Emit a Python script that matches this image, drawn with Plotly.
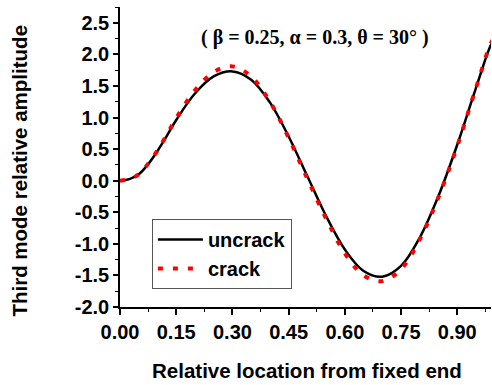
import plotly.graph_objects as go

# Relative location from fixed end
x_pos = [0.00, 0.025, 0.05, 0.075, 0.10, 0.125, 0.15, 0.20, 0.25, 0.30, 0.35, 0.40, 0.45, 0.50,
         0.55, 0.60, 0.65, 0.70, 0.75, 0.80, 0.85, 0.90, 0.95, 0.99, 1.00]
# Third mode relative amplitude
uncrack = [0.00, 0.025, 0.10, 0.26, 0.47, 0.71, 0.96, 1.38, 1.65, 1.73, 1.60, 1.24, 0.70, 0.07,
           -0.56, -1.09, -1.43, -1.52, -1.35, -0.90, -0.24, 0.57, 1.47, 2.15, 2.23]
crack = [0.00, 0.025, 0.10, 0.27, 0.48, 0.73, 0.99, 1.43, 1.72, 1.81, 1.65, 1.25, 0.68, 0.03,
         -0.60, -1.15, -1.50, -1.59, -1.40, -0.93, -0.26, 0.55, 1.47, 2.18, 2.27]

x_ticks = [0.00, 0.15, 0.30, 0.45, 0.60, 0.75, 0.90]
x_ticktext = ["0.00", "0.15", "0.30", "0.45", "0.60", "0.75", "0.90"]
y_ticks = [-2.0, -1.5, -1.0, -0.5, 0.0, 0.5, 1.0, 1.5, 2.0, 2.5]
y_ticktext = ["-2.0", "-1.5", "-1.0", "-0.5", "0.0", "0.5", "1.0", "1.5", "2.0", "2.5"]

sans = "Liberation Sans, Arial, sans-serif"
serif = "Liberation Serif, Times New Roman, serif"

fig = go.Figure()
fig.add_trace(go.Scatter(x=x_pos, y=uncrack, mode="lines", name="uncrack",
                         legendgroup="a",
                         line=dict(color="black", width=2.5, shape="spline")))
fig.add_trace(go.Scatter(x=x_pos, y=crack, mode="lines", name="crack",
                         legendgroup="b",
                         line=dict(color="#ff0000", width=4, dash="5px,10px", shape="spline")))

fig.update_layout(
    width=492, height=385,
    margin=dict(l=120, r=1, t=7, b=78),
    paper_bgcolor="white", plot_bgcolor="white",
    showlegend=True,
    legend=dict(x=0.086, y=0.293, xanchor="left", yanchor="top",
                bgcolor="white", bordercolor="#555555", borderwidth=1,
                font=dict(family=sans, size=20, color="black", weight="bold"),
                tracegroupgap=0, itemwidth=45),
    annotations=[
        dict(text="( β = 0.25, α = 0.3, θ = 30° )", xref="paper", yref="paper",
             x=0.526, y=0.897, xanchor="center", yanchor="middle", showarrow=False,
             font=dict(family=serif, size=20, color="black", weight="bold")),
        dict(text="Third mode relative amplitude", xref="paper", yref="paper",
             x=-0.272, y=0.455, xanchor="center", yanchor="middle", showarrow=False,
             textangle=-90,
             font=dict(family=sans, size=20.5, color="black", weight="bold")),
        dict(text="Relative location from fixed end", xref="paper", yref="paper",
             x=0.505, y=-0.21, xanchor="center", yanchor="middle", showarrow=False,
             font=dict(family=sans, size=20.5, color="black", weight="bold")),
    ],
)

fig.update_xaxes(range=[0, 0.99], showgrid=False, zeroline=False,
                 showline=True, linecolor="black", linewidth=1.5,
                 ticks="outside", ticklen=6, tickwidth=1.5, tickcolor="black",
                 tickvals=x_ticks, ticktext=x_ticktext,
                 minor=dict(ticks="outside", ticklen=3, dtick=0.075, tick0=0,
                            tickcolor="black", tickwidth=1.2),
                 tickfont=dict(family=sans, size=20, color="black", weight="bold"))
fig.update_yaxes(range=[-2.0, 2.75], showgrid=False, zeroline=False,
                 showline=True, linecolor="black", linewidth=1.5,
                 ticks="outside", ticklen=5, tickwidth=1.5, tickcolor="black",
                 tickvals=y_ticks, ticktext=y_ticktext,
                 minor=dict(ticks="outside", ticklen=3, dtick=0.25, tick0=0,
                            tickcolor="black", tickwidth=1.2),
                 tickfont=dict(family=sans, size=20, color="black", weight="bold"))

fig.write_html("out.html")
